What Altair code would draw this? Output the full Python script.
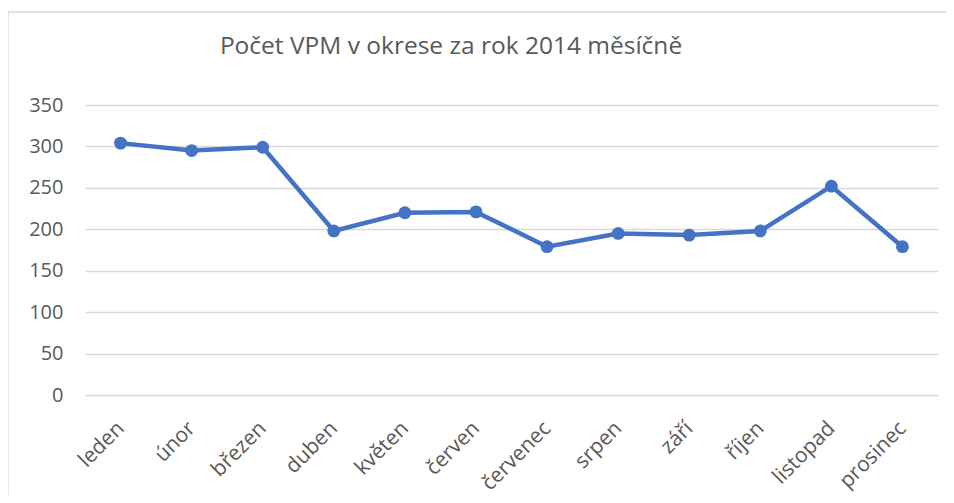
import altair as alt
import pandas as pd

months = ["leden", "únor", "březen", "duben", "květen", "červen",
          "červenec", "srpen", "září", "říjen", "listopad", "prosinec"]
values = [304, 295, 299, 198, 220, 221, 179, 195, 193, 198, 252, 179]
title_text = "Počet VPM v okrese za rok 2014 měsíčně"

df = pd.DataFrame({"mesic": months, "pocet": values})

FONT = "Open Sans"
GREY = "#595959"
BLUE = "#4472C4"

x = alt.X("mesic:N", sort=months, title=None,
          axis=alt.Axis(labelAngle=-45, labelAlign="right", labelBaseline="middle",
                        labelFontSize=21, labelColor=GREY, labelFont=FONT,
                        domain=False, ticks=False, labelPadding=30, grid=False))
y = alt.Y("pocet:Q", title=None,
          scale=alt.Scale(domain=[0, 350], nice=False),
          axis=alt.Axis(values=[0, 50, 100, 150, 200, 250, 300, 350],
                        labelFontSize=20, labelColor=GREY, labelFont=FONT,
                        domain=False, ticks=False, labelPadding=22,
                        grid=True, gridColor="#d9d9d9", gridWidth=1.3))

line = alt.Chart(df).mark_line(color=BLUE, strokeWidth=4.5).encode(x=x, y=y)
pts = alt.Chart(df).mark_point(filled=True, color=BLUE, size=165, opacity=1).encode(x=x, y=y)

one = pd.DataFrame({"t": [title_text]})
border = alt.Chart(one).mark_rect(
    fill=None, stroke="#d9d9d9", strokeWidth=1.3, clip=False
).encode(x=alt.value(-77), x2=alt.value(900), y=alt.value(-93), y2=alt.value(440))

title = alt.Chart(one).mark_text(
    font=FONT, fontSize=24.5, color=GREY, align="center", baseline="alphabetic"
).encode(text="t:N", x=alt.value(366), y=alt.value(-51))

chart = alt.layer(border, line, pts, title).properties(
    width=853, height=290,
    autosize=alt.AutoSizeParams(type="none"),
    padding={"left": 77, "top": 97, "right": 8, "bottom": 100},
).configure_view(stroke=None)

chart.save("out.html", embed_options={"renderer": "svg", "actions": False})
